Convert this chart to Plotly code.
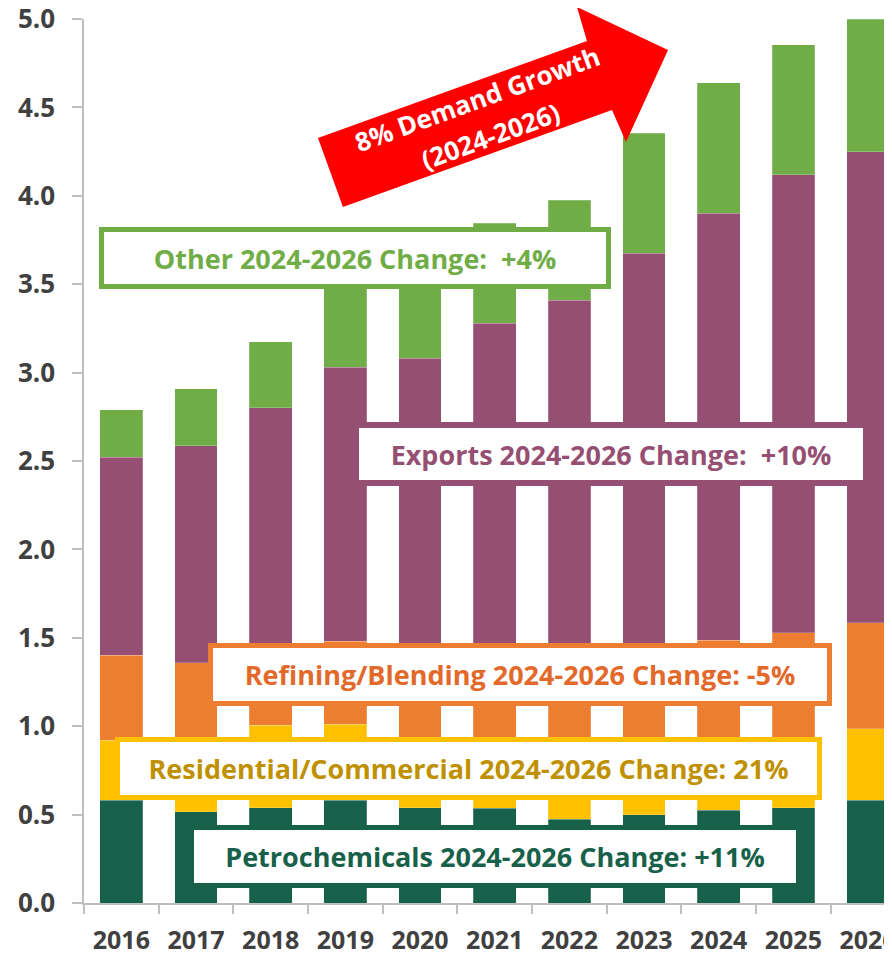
import plotly.graph_objects as go

# 数据（按图读取的估计值，堆叠各段）
years = ["2016", "2017", "2018", "2019", "2020", "2021", "2022", "2023", "2024", "2025", "2026"]
petrochemicals = [0.58, 0.515, 0.54, 0.58, 0.54, 0.535, 0.475, 0.50, 0.525, 0.54, 0.58]
residential = [0.34, 0.385, 0.465, 0.43, 0.36, 0.365, 0.405, 0.37, 0.332, 0.37, 0.405]
refining = [0.48, 0.46, 0.465, 0.47, 0.57, 0.57, 0.59, 0.60, 0.63, 0.62, 0.60]
exports = [1.12, 1.225, 1.33, 1.55, 1.61, 1.81, 1.94, 2.205, 2.413, 2.59, 2.665]
other = [0.27, 0.325, 0.375, 0.53, 0.54, 0.565, 0.565, 0.68, 0.74, 0.735, 0.75]

series = [
    ("Petrochemicals", petrochemicals, "#17614A"),
    ("Residential/Commercial", residential, "#FFC000"),
    ("Refining/Blending", refining, "#ED7D31"),
    ("Exports", exports, "#954F72"),
    ("Other", other, "#70AD47"),
]

# 页面 body 默认有 8px 外边距，图按此偏移
OFF = 8
W, H = 892 - OFF, 953 - OFF
L, T, B = 84 - OFF, 19 - OFF, 50
PW, PH = W - L, H - T - B

def px(x):
    # 截图像素 -> paper 坐标
    return (x - OFF - L) / PW

def py(y):
    return (H - B - (y - OFF)) / PH

FONT = "Open Sans"
TICK_COLOR = "#404040"
AXIS_COLOR = "#BFBFBF"

fig = go.Figure()
for name, vals, color in series:
    fig.add_trace(go.Bar(
        x=years, y=vals, name=name,
        marker=dict(color=color, line=dict(color="rgba(255,255,255,0.35)", width=0.6)),
        width=0.572,
    ))

# 红色箭头（截图像素坐标 -> paper）
arrow_pts = [(343, 207), (318, 138), (587, 41), (577, 7), (668, 50), (626, 142), (612, 110)]
path = "M " + " L ".join(f"{px(x):.4f},{py(y):.4f}" for x, y in arrow_pts) + " Z"

shapes = [dict(type="path", xref="paper", yref="paper", path=path,
               fillcolor="#FF0000", line=dict(width=0), layer="above")]

annotations = []

# 箭头文字
for txt, cx, cy in [("8% Demand Growth", 477, 99), ("(2024-2026)", 490, 136)]:
    annotations.append(dict(
        text=txt, xref="paper", yref="paper", x=px(cx), y=py(cy),
        xanchor="center", yanchor="middle", showarrow=False, textangle=-20,
        font=dict(family=FONT, size=26, color="white", weight=700),
    ))

# 各分项说明框: 文字, 中心x, 中心y, 外框宽, 外框高, 边框宽, 边框色, 文字色
boxes = [
    ("Other 2024-2026 Change:&nbsp; +4%", 355, 258, 512, 62, 5, "#70AD47", "#70AD47"),
    ("Exports 2024-2026 Change:&nbsp; +10%", 611, 454, 516, 64, 6, "#954F72", "#954F72"),
    ("Refining/Blending 2024-2026 Change: -5%", 520, 674.5, 624, 63, 5, "#ED7D31", "#E3692A"),
    ("Residential/Commercial 2024-2026 Change: 21%", 468.5, 768.5, 707, 63, 5, "#FFC000", "#BF9000"),
    ("Petrochemicals 2024-2026 Change: +11%", 495, 856.5, 612, 63, 5, "#17614A", "#17614A"),
]
for txt, cx, cy, ow, oh, bw, bc, tc in boxes:
    annotations.append(dict(
        text=txt, xref="paper", yref="paper", x=px(cx), y=py(cy),
        xanchor="center", yanchor="middle", showarrow=False,
        width=ow - 2 * bw, height=oh - 2 * bw, borderpad=0,
        bgcolor="white", bordercolor=bc, borderwidth=bw,
        font=dict(family=FONT, size=27, color=tc, weight=700),
    ))

fig.update_layout(
    width=W, height=H,
    margin=dict(l=L, r=0, t=T, b=B, pad=0),
    barmode="stack",
    showlegend=False,
    plot_bgcolor="white",
    paper_bgcolor="white",
    shapes=shapes,
    annotations=annotations,
    xaxis=dict(
        type="category",
        range=[-0.5, -0.5 + PW / 74.67],
        showline=True, linecolor=AXIS_COLOR, linewidth=1.5,
        ticks="outside", tickson="boundaries", ticklen=9, tickcolor=AXIS_COLOR, tickwidth=1.5,
        showgrid=False, zeroline=False, automargin=False,
        tickfont=dict(family=FONT, size=25, color=TICK_COLOR, weight=700),
        ticklabelstandoff=14, ticklabeloverflow="allow",
    ),
    yaxis=dict(
        range=[0, 5], dtick=0.5, tickformat=".1f",
        showline=True, linecolor=AXIS_COLOR, linewidth=1.5,
        ticks="outside", ticklen=10, tickcolor=AXIS_COLOR, tickwidth=1.5,
        showgrid=False, zeroline=False, automargin=False,
        tickfont=dict(family=FONT, size=26, color=TICK_COLOR, weight=700),
        ticklabelstandoff=12, ticklabeloverflow="allow",
    ),
)

fig.write_html("out.html")
